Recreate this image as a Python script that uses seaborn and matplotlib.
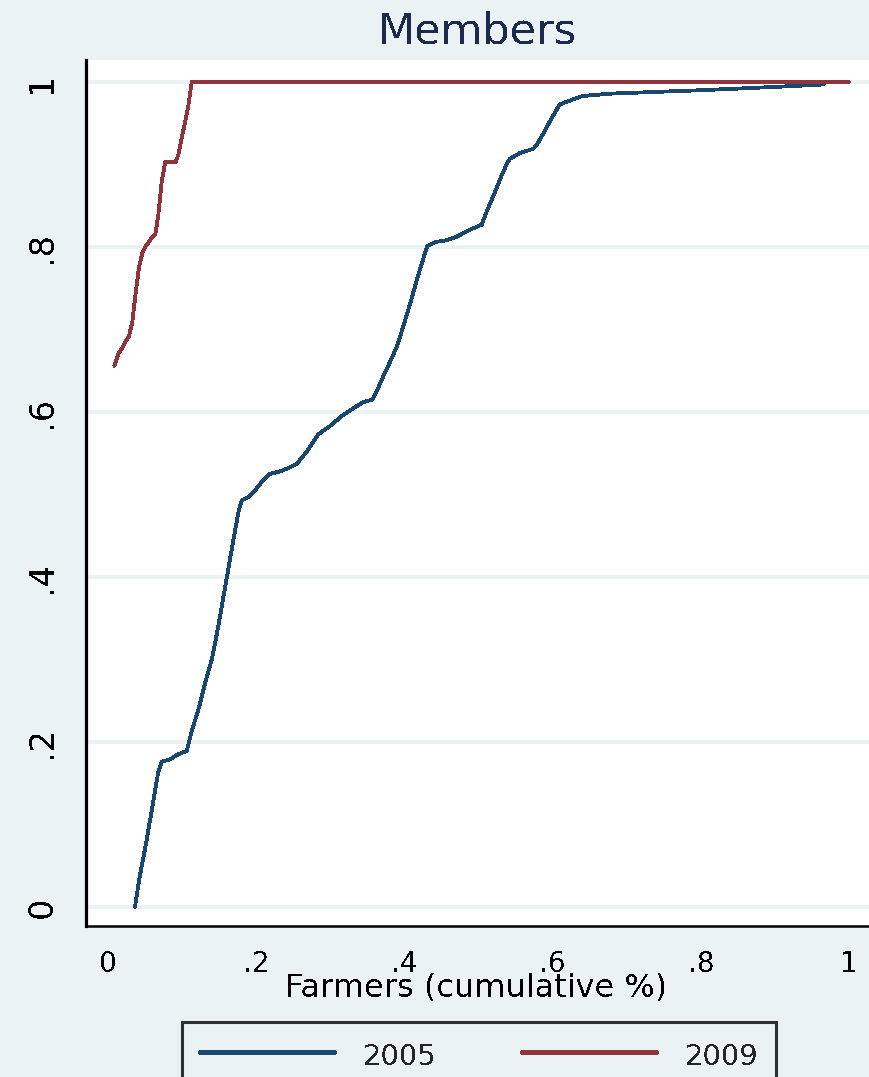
import numpy as np
import pandas as pd
import matplotlib
matplotlib.use("Agg")
import matplotlib.pyplot as plt
import seaborn as sns

# Cumulative share of farmers (x) vs cumulative share of members (y)
farmers_2005 = [0.0364, 0.0422, 0.0509, 0.0594, 0.0679, 0.0725, 0.0837, 0.0945,
                0.1062, 0.1130, 0.1228, 0.1318, 0.1404, 0.1494, 0.1583, 0.1669,
                0.1758, 0.1804, 0.1893, 0.1984, 0.2074, 0.2186, 0.2321, 0.2456,
                0.2547, 0.2682, 0.2838, 0.2996, 0.3154, 0.3302, 0.3445, 0.3567,
                0.3640, 0.3729, 0.3823, 0.3910, 0.3999, 0.4089, 0.4174, 0.4269,
                0.4309, 0.4413, 0.4561, 0.4696, 0.4885, 0.5043, 0.5119, 0.5205,
                0.5300, 0.5389, 0.5425, 0.5560, 0.5740, 0.5794, 0.5884, 0.5974,
                0.6064, 0.6100, 0.6190, 0.6401, 0.6802, 0.7990, 0.9000, 0.9658]
members_2005 = [0.000, 0.034, 0.075, 0.119, 0.164, 0.176, 0.179, 0.185,
                0.189, 0.213, 0.242, 0.274, 0.301, 0.343, 0.389, 0.433,
                0.478, 0.493, 0.497, 0.505, 0.515, 0.525, 0.528, 0.533,
                0.537, 0.552, 0.573, 0.583, 0.595, 0.604, 0.612, 0.615,
                0.628, 0.646, 0.664, 0.682, 0.708, 0.735, 0.762, 0.790,
                0.801, 0.806, 0.808, 0.812, 0.821, 0.827, 0.845, 0.863,
                0.884, 0.902, 0.907, 0.914, 0.919, 0.925, 0.939, 0.954,
                0.968, 0.973, 0.976, 0.983, 0.986, 0.990, 0.994, 0.997]

farmers_2009 = [0.0085, 0.0148, 0.0193, 0.0233, 0.0283, 0.0328, 0.0374, 0.0418,
                0.0463, 0.0503, 0.0590, 0.0638, 0.0679, 0.0725, 0.0773, 0.0914,
                0.0949, 0.0995, 0.1039, 0.1084, 0.1130, 1.0000]
members_2009 = [0.656, 0.672, 0.678, 0.685, 0.692, 0.709, 0.745, 0.775,
                0.793, 0.800, 0.811, 0.815, 0.839, 0.879, 0.903, 0.903,
                0.912, 0.932, 0.951, 0.971, 1.000, 1.000]

years = ["2005", "2009"]
tick_values = [0, 0.2, 0.4, 0.6, 0.8, 1]
tick_labels = ["0", ".2", ".4", ".6", ".8", "1"]

df = pd.concat([
    pd.DataFrame({"farmers": farmers_2005, "members": members_2005, "year": years[0]}),
    pd.DataFrame({"farmers": farmers_2009, "members": members_2009, "year": years[1]}),
], ignore_index=True)

BG = "#EAF2F3"
palette = {"2005": "#1A476F", "2009": "#90353B"}

sns.set_style("white")
plt.rcParams["font.family"] = ["DejaVu Sans"]
plt.rcParams["text.antialiased"] = False

W, H = 870, 1077
fig = plt.figure(figsize=(W / 100, H / 100), dpi=100, facecolor=BG)

left_px, right_px, top_px, bottom_px = 86, 870, 60, 926
ax = fig.add_axes([left_px / W, 1 - bottom_px / H,
                   (right_px - left_px) / W, (bottom_px - top_px) / H])
ax.set_facecolor("white")

# data <-> pixel mapping of the plot region
x0_px, x1_px = 108, 849
y0_px, y1_px = 907, 82
ax.set_xlim((left_px - x0_px) / (x1_px - x0_px), (right_px - x0_px) / (x1_px - x0_px))
ax.set_ylim((y0_px - bottom_px) / (y0_px - y1_px), (y0_px - top_px) / (y0_px - y1_px))

for yv in tick_values:
    ax.axhline(yv, color=BG, lw=1.6, zorder=0)

sns.lineplot(data=df, x="farmers", y="members", hue="year", palette=palette,
             sort=False, estimator=None, lw=2.0, ax=ax)
for ln in ax.lines:
    ln.set_antialiased(False)

ax.set_xticks(tick_values)
ax.set_xticklabels(tick_labels)
ax.set_yticks(tick_values)
ax.set_yticklabels(tick_labels, rotation=90, va="center")
ax.tick_params(axis="x", which="major", direction="out", length=6, width=2.4,
               color="black", labelsize=20, labelcolor="black", pad=11)
ax.tick_params(axis="y", which="major", direction="out", length=8.6, width=1.9,
               color="black", labelsize=24, labelcolor="black", pad=11)

for side in ["top", "right"]:
    ax.spines[side].set_visible(False)
ax.spines["left"].set_color("black")
ax.spines["left"].set_linewidth(2.3)
ax.spines["bottom"].set_color("black")
ax.spines["bottom"].set_linewidth(1.8)

ax.set_ylabel("")
ax.set_xlabel("Farmers (cumulative %)", fontsize=23, color="black")
ax.xaxis.set_label_coords((476.5 - left_px) / (right_px - left_px),
                          -(988 - bottom_px) / (bottom_px - top_px))
ax.xaxis.label.set_va("center")

fig.text(477 / W, 1 - 32 / H, "Members", ha="center", va="center",
         fontsize=31, color="#1C2A4F")

handles, labels = ax.get_legend_handles_labels()
ax.get_legend().remove()
leg = fig.legend(handles, labels, loc="upper center",
                 bbox_to_anchor=(479 / W, 1 - 1022 / H), ncol=2,
                 fontsize=21, handlelength=4.66, handletextpad=0.95,
                 handleheight=1.3, columnspacing=2.9, borderpad=0.6,
                 borderaxespad=0, frameon=True, fancybox=False,
                 facecolor=BG, edgecolor="black")
leg.get_frame().set_linewidth(2.2)
for h in leg.get_lines():
    h.set_linewidth(2.2)
    h.set_antialiased(False)

fig.savefig("out.png", dpi=100, facecolor=BG)
